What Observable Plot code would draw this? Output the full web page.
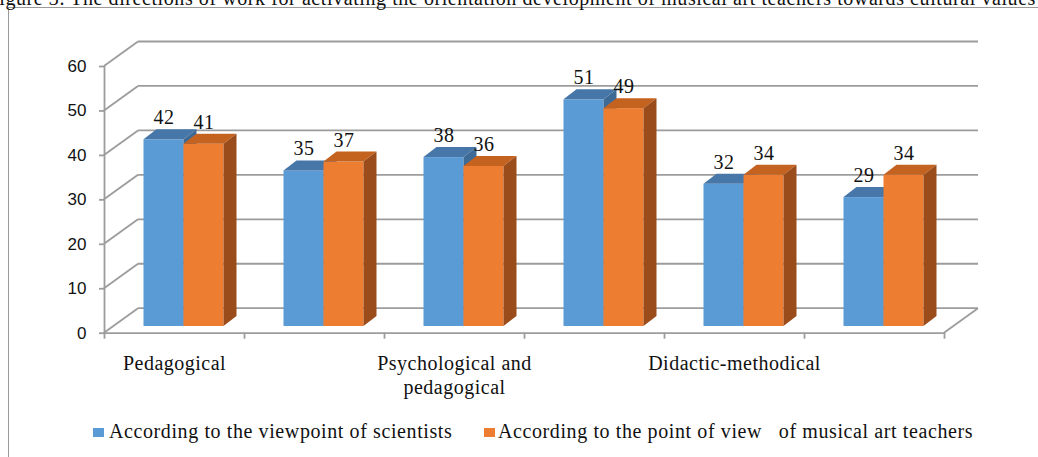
<!DOCTYPE html>
<html>
<head>
<meta charset="utf-8">
<script src="https://cdn.jsdelivr.net/npm/d3@7"></script>
<script src="https://cdn.jsdelivr.net/npm/@observablehq/plot@0.6"></script>
<style>
  html, body { margin: 0; padding: 0; background: #fff; width: 1038px; height: 457px; overflow: hidden; position: relative; }
  #frame { position: absolute; left: 8px; top: 7px; width: 1200px; height: 600px; border: 1px solid #9a9a9a; box-sizing: border-box; }
  #title { position: absolute; right: 2px; top: -12px; white-space: nowrap; font-family: "Liberation Serif", "Times New Roman", serif; font-size: 20px; line-height: 20px; color: #111; letter-spacing: 0.58px; }
  #chart { position: absolute; left: 0; top: 0; }
  .lg-sw { position: absolute; width: 11px; height: 9px; top: 428px; }
  .lg-tx { position: absolute; top: 421px; white-space: nowrap; font-family: "Liberation Serif", "Times New Roman", serif; font-size: 20px; line-height: 20px; color: #111; letter-spacing: 0.6px; }
</style>
</head>
<body>
<div id="frame"></div>
<div id="title"></div>
<div id="chart"></div>
<div id="legend"></div>
<script>
// ---- data ----
const titleText = "Figure 3. The directions of work for activating the orientation development of musical art teachers towards cultural values";
const categories = ["Pedagogical", "Organizational", "Psychological and pedagogical", "Motivational", "Didactic-methodical", "Practical"];
const xTickLabels = ["Pedagogical", "", "Psychological and\npedagogical", "", "Didactic-methodical", ""];
const scientists = [42, 35, 38, 51, 32, 29];
const teachers = [41, 37, 36, 49, 34, 34];
const seriesNames = ["According to the viewpoint of scientists", "According to the point of view \u00a0 of musical art teachers"];
const yTicks = [0, 10, 20, 30, 40, 50, 60];

// ---- style / geometry ----
const colors = {
  front: ["#5B9BD5", "#ED7D31"],
  top: ["#4677A8", "#C4621F"],
  side: ["#3E6A96", "#9B4C1B"]
};
const GRID = "#9c9c9c";
const SERIF = "'Liberation Serif', 'Times New Roman', serif";
const SANS = "'Liberation Sans', Arial, sans-serif";
const BAR_W = 40 / 140;               // bar width as fraction of a category band
const GAP = (1 - 2 * BAR_W) / 2;       // gap before the first bar in a band
const WALL = {dx: 34, dy: -24.5};      // depth of the 3D box (px)
const PLANE = {dx: 9.5, dy: -6.7};     // plane of the bars' front faces (px)
const DEPTH = {dx: 13, dy: -10};       // bar depth (px)

document.getElementById("title").textContent = titleText;

const rows = [scientists, teachers].map((vals, s) =>
  categories.map((c, i) => ({
    c, i, s, v: vals[i],
    x1: i + GAP + s * BAR_W,
    x2: i + GAP + (s + 1) * BAR_W,
    y0: 0
  }))
);
const labelRows = categories.map((c, i) => ({i, text: xTickLabels[i]})).filter(d => d.text);

function walls(index, scales) {
  const {x, y} = scales;
  const g = d3.create("svg:g").attr("stroke", GRID).attr("stroke-width", 1.8).attr("fill", "none");
  const x0 = x(0), x6 = x(6);
  for (const t of yTicks) {
    const yt = y(t);
    g.append("line").attr("x1", x0).attr("y1", yt).attr("x2", x0 + WALL.dx).attr("y2", yt + WALL.dy);
    g.append("line").attr("x1", x0 + WALL.dx).attr("y1", yt + WALL.dy).attr("x2", x6 + WALL.dx).attr("y2", yt + WALL.dy);
  }
  g.append("line").attr("x1", x6).attr("y1", y(0)).attr("x2", x6 + WALL.dx).attr("y2", y(0) + WALL.dy);
  return g.node();
}

function barFaces(s) {
  return (index, scales) => {
    const {x, y} = scales;
    const g = d3.create("svg:g");
    for (const r of rows[s]) {
      const xa = x(r.x1) + PLANE.dx, xb = x(r.x2) + PLANE.dx;
      const yt = y(r.v) + PLANE.dy, yb = y(r.y0) + PLANE.dy;
      g.append("path")
        .attr("d", `M${xa},${yt}L${xb},${yt}L${xb + DEPTH.dx},${yt + DEPTH.dy}L${xa + DEPTH.dx},${yt + DEPTH.dy}Z`)
        .attr("fill", colors.top[s]);
      g.append("path")
        .attr("d", `M${xb},${yt}L${xb + DEPTH.dx},${yt + DEPTH.dy}L${xb + DEPTH.dx},${yb + DEPTH.dy}L${xb},${yb}Z`)
        .attr("fill", colors.side[s]);
    }
    return g.node();
  };
}

const H = 405;
const chart = Plot.plot({
  width: 1038,
  height: H,
  marginLeft: 104,
  marginRight: 94,
  marginTop: 66,
  marginBottom: H - 332.7,
  x: {domain: [0, 6], axis: null},
  y: {domain: [0, 60], axis: null},
  style: {background: "transparent", color: "#111", fontFamily: SERIF, overflow: "visible"},
  marks: [
    walls,
    Plot.ruleX([0], {y1: 0, y2: 60, stroke: GRID, strokeWidth: 1.8}),
    Plot.ruleY([0], {x1: 0, x2: 6, stroke: GRID, strokeWidth: 1.8}),
    Plot.axisY({ticks: yTicks, tickSize: 5, tickPadding: 13, stroke: GRID, strokeWidth: 1.8, fontFamily: SANS, fontSize: 17, label: null}),
    Plot.axisX({ticks: d3.range(7), tickSize: 6, tickFormat: () => "", stroke: GRID, strokeWidth: 1.8, label: null}),
    Plot.rect(rows[0], {x1: "x1", x2: "x2", y1: "y0", y2: "v", dx: PLANE.dx, dy: PLANE.dy, fill: colors.front[0]}),
    barFaces(0),
    Plot.rect(rows[1], {x1: "x1", x2: "x2", y1: "y0", y2: "v", dx: PLANE.dx, dy: PLANE.dy, fill: colors.front[1]}),
    barFaces(1),
    Plot.text(rows.flat(), {
      x: d => (d.x1 + d.x2) / 2, y: "v", text: d => String(d.v),
      dx: PLANE.dx, dy: PLANE.dy + DEPTH.dy - 5.5, lineAnchor: "bottom",
      fontFamily: SERIF, fontSize: 20, fill: "#111"
    }),
    Plot.text(labelRows, {
      x: d => d.i + 0.5, y: () => 0, text: "text",
      dy: 19.3, lineAnchor: "top", lineHeight: 1.2,
      fontFamily: SERIF, fontSize: 20, fill: "#111"
    })
  ]
});
chart.querySelectorAll("text").forEach(t => {
  if ((t.getAttribute("font-family") || "").includes("Serif") || t.closest("[font-family*='Serif']")) t.style.letterSpacing = "0.5px";
});
document.getElementById("chart").append(chart);

// ---- legend (HTML, below the svg) ----
const legend = document.getElementById("legend");
const swX = [93, 484], txX = [109, 498];
seriesNames.forEach((name, s) => {
  const sw = document.createElement("div");
  sw.className = "lg-sw";
  sw.style.left = swX[s] + "px";
  sw.style.background = colors.front[s];
  const tx = document.createElement("div");
  tx.className = "lg-tx";
  tx.style.left = txX[s] + "px";
  tx.textContent = name;
  legend.append(sw, tx);
});
</script>
</body>
</html>
